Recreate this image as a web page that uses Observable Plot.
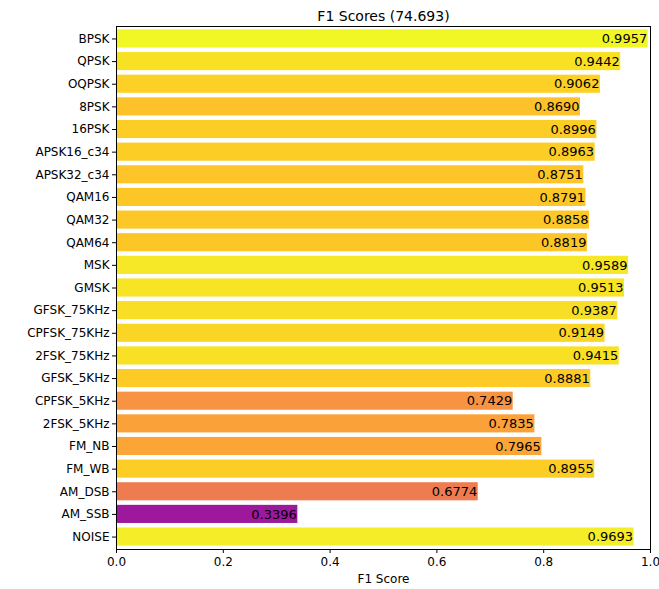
<!DOCTYPE html>
<html>
<head>
<meta charset="utf-8">
<script src="https://cdn.jsdelivr.net/npm/d3@7"></script>
<script src="https://cdn.jsdelivr.net/npm/@observablehq/plot@0.6"></script>
<style>
  html, body { margin: 0; padding: 0; background: white; }
</style>
</head>
<body>
<div id="chart"></div>
<script>
const classes = ["BPSK","QPSK","OQPSK","8PSK","16PSK","APSK16_c34","APSK32_c34","QAM16","QAM32","QAM64","MSK","GMSK","GFSK_75KHz","CPFSK_75KHz","2FSK_75KHz","GFSK_5KHz","CPFSK_5KHz","2FSK_5KHz","FM_NB","FM_WB","AM_DSB","AM_SSB","NOISE"];
const scores = [0.9957,0.9442,0.9062,0.8690,0.8996,0.8963,0.8751,0.8791,0.8858,0.8819,0.9589,0.9513,0.9387,0.9149,0.9415,0.8881,0.7429,0.7835,0.7965,0.8955,0.6774,0.3396,0.9693];
const xTicks = [0, 0.2, 0.4, 0.6, 0.8, 1.0];
const title = "F1 Scores (74.693)";
const xLabel = "F1 Score";

const data = classes.map((c, i) => ({cls: c, score: scores[i]}));

const chart = Plot.plot({
  width: 659,
  height: 589,
  marginLeft: 116,
  marginRight: 9,
  marginTop: 26,
  marginBottom: 40,
  style: {fontFamily: "DejaVu Sans", fontSize: "12px", background: "white", color: "black"},
  x: {domain: [0, 1], ticks: xTicks, tickFormat: ".1f", label: xLabel, labelArrow: "none", labelAnchor: "center"},
  y: {domain: classes, paddingInner: 0.2, paddingOuter: 0.15, round: false, label: null},
  color: {type: "linear", scheme: "plasma", domain: [0, 1]},
  marks: [
    Plot.barX(data, {x: "score", y: "cls", fill: "score"}),
    Plot.text(data, {x: "score", y: "cls", text: d => d.score.toFixed(4), textAnchor: "end", dx: -1, fill: "black", fontSize: 13}),
    Plot.frame({stroke: "black"}),
    Plot.axisX({ticks: xTicks, tickFormat: ".1f", tickSize: 4, tickPadding: 4, label: xLabel, labelArrow: "none", labelOffset: 33, labelAnchor: "center", fontSize: 12}),
    Plot.axisY({tickSize: 4, tickPadding: 3, fontSize: 12}),
    Plot.text([title], {frameAnchor: "top", dy: -15, fontSize: 14, fill: "black"})
  ]
});
document.getElementById("chart").appendChild(chart);
</script>
</body>
</html>
